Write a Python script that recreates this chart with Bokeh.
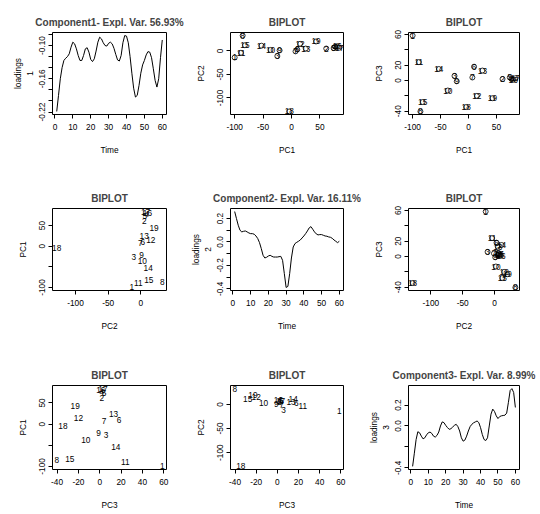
from bokeh.plotting import figure
from bokeh.layouts import gridplot
from bokeh.models import FixedTicker, Range1d
from bokeh.core.properties import value
from bokeh.embed import file_html
from bokeh.resources import INLINE

# ---------------- data ----------------
obs_labels = [str(i) for i in range(1, 20)]
pc1 = [-100, 61, -25, 77, 74, 10, 7, -86, -21, -37, -89, 15, 25, -53, -82, 80, 84, -4, 43]
pc2 = [-14, 5, -11, 9, 6, 3, -1, 32.6, 1, 2, -4, 15, 5, 11, 12, 10, 7, -128.6, 20]
pc3 = [58.6, 2, 6, 2, 4, 18, 4, -40.3, -1, -13, 24, -20, 13, 15, -28, 1, 3, -34.5, -23]

time = list(range(1, 61))
load1 = [-0.219, -0.190, -0.160, -0.140, -0.127, -0.123, -0.120, -0.115, -0.103, -0.094,
         -0.097, -0.106, -0.118, -0.127, -0.127, -0.118, -0.106, -0.104, -0.112, -0.125,
         -0.129, -0.124, -0.110, -0.094, -0.085, -0.088, -0.095, -0.100, -0.101, -0.096,
         -0.094, -0.097, -0.105, -0.116, -0.126, -0.128, -0.118, -0.095, -0.082, -0.083,
         -0.095, -0.120, -0.150, -0.177, -0.193, -0.190, -0.172, -0.150, -0.135, -0.127,
         -0.117, -0.111, -0.112, -0.122, -0.142, -0.163, -0.175, -0.160, -0.122, -0.090]
load2 = [0.260, 0.200, 0.143, 0.100, 0.086, 0.091, 0.094, 0.086, 0.077, 0.071,
         0.071, 0.066, 0.051, 0.029, -0.006, -0.057, -0.114, -0.137, -0.131, -0.120,
         -0.114, -0.123, -0.129, -0.129, -0.129, -0.126, -0.123, -0.157, -0.271, -0.389,
         -0.380, -0.271, -0.137, -0.043, -0.014, -0.003, 0.006, 0.017, 0.034, 0.051,
         0.071, 0.094, 0.120, 0.131, 0.109, 0.086, 0.069, 0.060, 0.063, 0.063,
         0.057, 0.051, 0.049, 0.043, 0.040, 0.031, 0.017, 0.006, -0.006, 0.006]
load3 = [-0.386, -0.260, -0.130, -0.055, -0.065, -0.097, -0.123, -0.113, -0.085, -0.065,
         -0.058, -0.071, -0.097, -0.106, -0.090, -0.058, 0.000, 0.039, 0.032, 0.006,
         -0.015, -0.032, -0.026, -0.010, 0.006, 0.016, -0.006, -0.048, -0.113, -0.145,
         -0.135, -0.097, -0.048, -0.006, 0.016, 0.030, 0.039, 0.048, 0.032, -0.016,
         -0.081, -0.129, -0.139, -0.113, 0.000, 0.113, 0.161, 0.139, 0.097, 0.071,
         0.090, 0.097, 0.100, 0.103, 0.123, 0.226, 0.339, 0.357, 0.320, 0.177]

titles = ["Component1- Expl. Var. 56.93%", "Component2- Expl. Var. 16.11%",
          "Component3- Expl. Var. 8.99%", "BIPLOT"]

ticks_time = [0, 10, 20, 30, 40, 50, 60]
labels_time = ["0", "10", "20", "30", "40", "50", "60"]
ticks_pc1 = [-100, -50, 0, 50]
labels_pc1_x = ["-100", "-50", "0", "50"]
labels_pc1_y = ["-100", "", "0", "50"]
ticks_pc2 = [-100, -50, 0]
labels_pc2 = ["-100", "-50", "0"]
ticks_pc3 = [-40, -20, 0, 20, 40, 60]
labels_pc3_x = ["-40", "-20", "0", "20", "40", "60"]
labels_pc3_y = ["-40", "", "0", "20", "", "60"]
ticks_l1 = [-0.22, -0.20, -0.18, -0.16, -0.14, -0.12, -0.10, -0.08]
labels_l1 = ["-0.22", "", "", "-0.16", "", "", "-0.10", ""]
ticks_l2 = [-0.4, -0.3, -0.2, -0.1, 0.0, 0.1, 0.2]
labels_l2 = ["-0.4", "", "-0.2", "", "0.0", "", "0.2"]
ticks_l3 = [-0.4, -0.2, 0.0, 0.2]
labels_l3 = ["-0.4", "", "0.0", "0.2"]

# ---------------- layout ----------------
FONT = "Liberation Sans"
col_w = [186, 179, 175]
col_left = [52, 44, 41]
row_h = [176, 177, 161]
row_bottom = [62, 63, 45]
TOP = 32


def rrange(vals):
    lo, hi = min(vals), max(vals)
    d = hi - lo
    return Range1d(lo - 0.04 * d, hi + 0.04 * d)


def style_axis(ax, ticks, labels, vertical, label_standoff):
    ax.ticker = FixedTicker(ticks=ticks)
    ax.major_label_overrides = {t: l for t, l in zip(ticks, labels)}
    ax.axis_line_color = None
    ax.major_tick_line_color = "black"
    ax.major_tick_out = 4
    ax.major_tick_in = 0
    ax.minor_tick_line_color = None
    ax.major_label_text_font = FONT
    ax.major_label_text_font_size = "8.3px"
    ax.major_label_text_color = "black"
    ax.axis_label_text_font = FONT
    ax.axis_label_text_font_size = "8.3px"
    ax.axis_label_text_font_style = "normal"
    ax.axis_label_text_color = "black"
    if vertical:
        ax.major_label_orientation = "vertical"
        ax.major_label_standoff = 3
    else:
        ax.major_label_standoff = 5
    ax.axis_label_standoff = label_standoff


def make_fig(r, c, title, xr, yr, xlab, ylab, xt, xl, yt, yl, ylab_standoff):
    p = figure(width=col_w[c], height=row_h[r],
               min_border_left=col_left[c],
               min_border_right=col_w[c] - col_left[c] - 113 - (1 if c == 0 else 0),
               min_border_top=TOP, min_border_bottom=row_bottom[r],
               x_range=xr, y_range=yr, output_backend="svg",
               toolbar_location=None, title=title)
    p.title.text_font = FONT
    p.title.text_font_size = "10px"
    p.title.text_font_style = "bold"
    p.title.align = "center"
    p.title.standoff = 9
    p.grid.visible = False
    p.outline_line_color = "black"
    p.outline_line_width = 1
    p.background_fill_color = "white"
    p.border_fill_color = "white"
    p.xaxis.axis_label = xlab
    p.yaxis.axis_label = ylab
    style_axis(p.xaxis[0], xt, xl, False, 12)
    style_axis(p.yaxis[0], yt, yl, True, ylab_standoff)
    return p


def loadings_fig(r, c, title, vals, idx, yt, yl):
    p = make_fig(r, c, title, rrange(time), rrange(vals), "Time", "loadings\n" + idx,
                 ticks_time, labels_time, yt, yl, 2)
    p.line(time, vals, line_color="black", line_width=1)
    return p


def biplot_fig(r, c, xv, yv, xlab, ylab, xt, xl, yt, yl, circles):
    p = make_fig(r, c, titles[3], rrange(xv), rrange(yv), xlab, ylab, xt, xl, yt, yl, 9)
    if circles:
        p.scatter(xv, yv, marker="circle", size=5, fill_color=None,
                  line_color="black", line_width=0.8)
    p.text(x=xv, y=yv, text=obs_labels, text_align="center", text_baseline="middle",
           text_font=value(FONT), text_font_size="8.3px", text_color="black")
    return p


p1 = loadings_fig(0, 0, titles[0], load1, "1", ticks_l1, labels_l1)
p2 = biplot_fig(0, 1, pc1, pc2, "PC1", "PC2", ticks_pc1, labels_pc1_x, ticks_pc2, labels_pc2, True)
p3 = biplot_fig(0, 2, pc1, pc3, "PC1", "PC3", ticks_pc1, labels_pc1_x, ticks_pc3, labels_pc3_y, True)

p4 = biplot_fig(1, 0, pc2, pc1, "PC2", "PC1", ticks_pc2, labels_pc2, ticks_pc1, labels_pc1_y, False)
p5 = loadings_fig(1, 1, titles[1], load2, "2", ticks_l2, labels_l2)
p6 = biplot_fig(1, 2, pc2, pc3, "PC2", "PC3", ticks_pc2, labels_pc2, ticks_pc3, labels_pc3_y, True)

p7 = biplot_fig(2, 0, pc3, pc1, "PC3", "PC1", ticks_pc3, labels_pc3_x, ticks_pc1, labels_pc1_y, False)
p8 = biplot_fig(2, 1, pc3, pc2, "PC3", "PC2", ticks_pc3, labels_pc3_x, ticks_pc2, labels_pc2, False)
p9 = loadings_fig(2, 2, titles[2], load3, "3", ticks_l3, labels_l3)

grid = gridplot([[p1, p2, p3], [p4, p5, p6], [p7, p8, p9]], toolbar_location=None)

with open("out.html", "w") as f:
    f.write(file_html(grid, INLINE))
